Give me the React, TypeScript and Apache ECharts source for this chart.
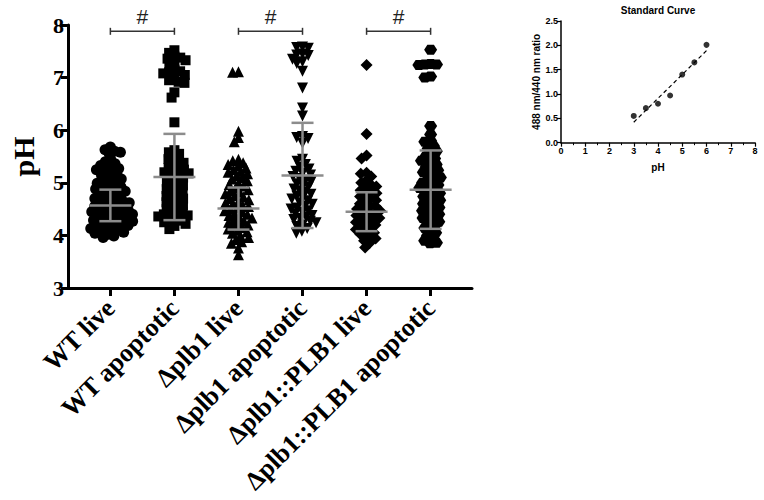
import React, { useEffect, useRef } from "react";
import * as echarts from "echarts";

// ---------- data ----------
const categories = [
  "WT live",
  "WT apoptotic",
  "Δplb1 live",
  "Δplb1 apoptotic",
  "Δplb1::PLB1 live",
  "Δplb1::PLB1 apoptotic",
];

const wtLive = [5.68, 5.63, 5.6, 5.58, 5.55, 5.44, 5.4, 5.36, 5.33, 5.3, 5.27, 5.25, 5.22, 5.18, 5.15, 5.14, 5.1, 5.07, 5.05, 5.02, 4.99, 4.97, 4.95, 4.92, 4.9, 4.88, 4.85, 4.84, 4.81, 4.79, 4.77, 4.74, 4.72, 4.7, 4.68, 4.67, 4.64, 4.62, 4.6, 4.59, 4.56, 4.55, 4.53, 4.51, 4.49, 4.48, 4.46, 4.45, 4.43, 4.41, 4.4, 4.38, 4.36, 4.35, 4.33, 4.31, 4.3, 4.29, 4.27, 4.25, 4.24, 4.22, 4.2, 4.19, 4.17, 4.15, 4.13, 4.12, 4.1, 4.08, 4.06, 4.04, 4.02, 3.99, 3.96];

const wtApoptotic = [7.52, 7.47, 7.4, 7.38, 7.36, 7.33, 7.28, 7.22, 7.15, 7.12, 7.1, 7.08, 7.05, 7.0, 6.95, 6.92, 6.9, 6.72, 6.62, 6.15, 5.62, 5.58, 5.55, 5.5, 5.45, 5.42, 5.38, 5.35, 5.3, 5.28, 5.25, 5.22, 5.2, 5.18, 5.15, 5.12, 5.1, 5.05, 5.02, 4.98, 4.95, 4.92, 4.88, 4.85, 4.82, 4.78, 4.75, 4.72, 4.7, 4.66, 4.63, 4.6, 4.57, 4.54, 4.5, 4.47, 4.44, 4.42, 4.4, 4.38, 4.36, 4.33, 4.3, 4.28, 4.25, 4.22, 4.18, 4.12];

const plb1Live = [7.11, 7.1, 5.98, 5.86, 5.78, 5.45, 5.42, 5.38, 5.35, 5.32, 5.28, 5.25, 5.22, 5.2, 5.17, 5.14, 5.1, 5.07, 5.04, 5.0, 4.97, 4.94, 4.9, 4.87, 4.85, 4.82, 4.79, 4.76, 4.73, 4.7, 4.68, 4.65, 4.62, 4.6, 4.57, 4.55, 4.52, 4.5, 4.47, 4.45, 4.42, 4.4, 4.38, 4.35, 4.33, 4.3, 4.28, 4.25, 4.23, 4.2, 4.18, 4.15, 4.12, 4.1, 4.07, 4.04, 4.0, 3.96, 3.92, 3.88, 3.85, 3.76, 3.63];

const plb1Apoptotic = [7.58, 7.57, 7.56, 7.45, 7.43, 7.42, 7.35, 7.3, 7.27, 7.12, 6.8, 6.42, 6.27, 5.88, 5.86, 5.84, 5.75, 5.45, 5.41, 5.35, 5.3, 5.26, 5.22, 5.18, 5.15, 5.12, 5.08, 5.05, 5.02, 4.98, 4.95, 4.92, 4.88, 4.85, 4.82, 4.78, 4.75, 4.72, 4.69, 4.66, 4.62, 4.59, 4.56, 4.52, 4.5, 4.47, 4.44, 4.41, 4.38, 4.35, 4.32, 4.3, 4.27, 4.24, 4.2, 4.17, 4.13, 4.08, 4.04];

const compLive = [7.24, 5.93, 5.52, 5.46, 5.19, 5.17, 5.12, 5.05, 5.0, 4.97, 4.93, 4.9, 4.86, 4.83, 4.8, 4.77, 4.74, 4.7, 4.67, 4.64, 4.6, 4.57, 4.55, 4.52, 4.5, 4.47, 4.45, 4.42, 4.4, 4.38, 4.35, 4.33, 4.3, 4.28, 4.25, 4.22, 4.2, 4.17, 4.14, 4.11, 4.08, 4.05, 4.02, 3.98, 3.94, 3.9, 3.85, 3.77];

const compApoptotic = [7.53, 7.26, 7.25, 7.25, 7.24, 7.02, 7.0, 6.08, 5.92, 5.8, 5.78, 5.7, 5.65, 5.6, 5.55, 5.5, 5.46, 5.42, 5.38, 5.35, 5.3, 5.27, 5.24, 5.2, 5.17, 5.14, 5.1, 5.06, 5.03, 5.0, 4.96, 4.93, 4.9, 4.87, 4.84, 4.8, 4.77, 4.74, 4.7, 4.67, 4.64, 4.6, 4.56, 4.53, 4.5, 4.47, 4.44, 4.4, 4.37, 4.33, 4.3, 4.26, 4.22, 4.18, 4.14, 4.1, 4.05, 4.0, 3.95, 3.9, 3.86, 3.85];

const groupValues = [wtLive, wtApoptotic, plb1Live, plb1Apoptotic, compLive, compApoptotic];
const groupMeans = [4.57, 5.11, 4.51, 5.14, 4.45, 4.87];
const groupSDs = [0.3, 0.82, 0.4, 1.0, 0.37, 0.745];

// significance comparisons: [from group, to group]
const comparisons = [[0, 1], [2, 3], [4, 5]];
const compLabel = "#";

const yTicks = [3, 4, 5, 6, 7, 8];

// standard curve
const stdPH = [3, 3.5, 4, 4.5, 5, 5.5, 6];
const stdRatio = [0.55, 0.71, 0.8, 0.97, 1.4, 1.65, 2.01];

// ---------- layout ----------
const G_LEFT = 62, G_TOP = 25, G_W = 410, G_H = 263;
const X_MIN = -0.6615, X_MAX = 5.646;
const Y_MIN = 3, Y_MAX = 8;
const PX_X = G_W / (X_MAX - X_MIN);
const PX_Y = G_H / (Y_MAX - Y_MIN);

const symbols = [
  { symbol: "circle", size: 11, rotate: 0, d: 6 },
  { symbol: "rect", size: 10, rotate: 0, d: 6 },
  { symbol: "triangle", size: 11, rotate: 0, d: 6 },
  { symbol: "triangle", size: 11, rotate: 180, d: 6 },
  { symbol: "diamond", size: 12, rotate: 0, d: 6 },
  { symbol: "path://M3,0 L9,0 L12,5 L9,10 L3,10 L0,5 Z", size: [13, 10], rotate: 0, d: 6 },
];

// deterministic beeswarm: horizontal pixel offsets so markers don't pile up
function swarm(values: number[], d: number): number[] {
  const order = values.map((_, i) => i).sort((a, b) => values[b] - values[a]);
  const placed: [number, number][] = [];
  const offs = new Array(values.length).fill(0);
  for (const idx of order) {
    const y = values[idx] * PX_Y;
    const blocks: [number, number][] = [];
    for (const [px, py] of placed) {
      const dy = Math.abs(py - y);
      if (dy < d) {
        const w = Math.sqrt(d * d - dy * dy);
        blocks.push([px - w, px + w]);
      }
    }
    const cands = [0];
    for (const [a, b] of blocks) cands.push(a, b);
    cands.sort((a, b) => Math.abs(a) - Math.abs(b));
    let x = 0;
    for (const c of cands) {
      if (blocks.every(([a, b]) => c <= a + 1e-6 || c >= b - 1e-6)) {
        x = c;
        break;
      }
    }
    placed.push([x, y]);
    offs[idx] = x;
  }
  return offs;
}

function linFit(xs: number[], ys: number[]) {
  const n = xs.length;
  const mx = xs.reduce((s, v) => s + v, 0) / n;
  const my = ys.reduce((s, v) => s + v, 0) / n;
  let sxy = 0, sxx = 0;
  for (let i = 0; i < n; i++) {
    sxy += (xs[i] - mx) * (ys[i] - my);
    sxx += (xs[i] - mx) ** 2;
  }
  const b = sxy / sxx;
  return (x: number) => my + b * (x - mx);
}

const SERIF = "'Liberation Serif', 'Times New Roman', serif";
const SANS = "'Liberation Sans', Arial, sans-serif";

export default function App() {
  const ref = useRef<HTMLDivElement>(null);
  useEffect(() => {
    if (!ref.current) return;
    const chart = echarts.init(ref.current, undefined, { renderer: "svg" });

    const scatterSeries = groupValues.map((vals, i) => {
      const offs = swarm(vals, symbols[i].d);
      return {
        type: "scatter",
        xAxisIndex: 0,
        yAxisIndex: 0,
        symbol: symbols[i].symbol,
        symbolSize: symbols[i].size,
        symbolRotate: symbols[i].rotate,
        itemStyle: { color: "#000", opacity: 1 },
        silent: true,
        z: 2,
        data: vals.map((v, k) => [i + offs[k] / PX_X, v]),
      };
    });

    const fit = linFit(stdPH, stdRatio);
    const xLo = Math.min(...stdPH), xHi = Math.max(...stdPH);

    const option: any = {
      animation: false,
      grid: [
        { left: G_LEFT, top: G_TOP, width: G_W, height: G_H },
        { left: 561, top: 21, width: 194, height: 121.7 },
      ],
      xAxis: [
        {
          gridIndex: 0,
          type: "value",
          min: X_MIN,
          max: X_MAX,
          splitLine: { show: false },
          axisLine: { show: true, onZero: false, lineStyle: { color: "#000", width: 3 } },
          axisTick: { show: true, customValues: [0, 1, 2, 3, 4, 5], length: 8, lineStyle: { color: "#000", width: 3 } },
          axisLabel: {
            customValues: [0, 1, 2, 3, 4, 5],
            formatter: (v: number) => categories[Math.round(v)],
            rotate: 45,
            margin: 16,
            color: "#000",
            fontFamily: SERIF,
            fontWeight: "bold",
            fontSize: 26,
          },
        },
        {
          gridIndex: 1,
          type: "value",
          min: 0,
          max: 8,
          interval: 1,
          splitLine: { show: false },
          axisLine: { show: true, onZero: false, lineStyle: { color: "#000", width: 1.5 } },
          axisTick: { show: true, length: 4, lineStyle: { color: "#000", width: 1.2 } },
          minorTick: { show: true, splitNumber: 2, length: 2.5, lineStyle: { color: "#000", width: 1 } },
          axisLabel: { color: "#000", fontFamily: SANS, fontWeight: "bold", fontSize: 9, margin: 4 },
          name: "pH",
          nameLocation: "middle",
          nameGap: 20,
          nameTextStyle: { color: "#000", fontFamily: SANS, fontWeight: "bold", fontSize: 10 },
        },
      ],
      yAxis: [
        {
          gridIndex: 0,
          type: "value",
          min: Y_MIN,
          max: Y_MAX,
          interval: 1,
          splitLine: { show: false },
          axisLine: { show: true, onZero: false, lineStyle: { color: "#000", width: 3 } },
          axisTick: { show: true, length: 7, lineStyle: { color: "#000", width: 3 } },
          axisLabel: {
            color: "#000",
            fontFamily: SERIF,
            fontWeight: "bold",
            fontSize: 22,
            margin: 4,
            formatter: (v: number) => (yTicks.includes(v) ? String(v) : ""),
          },
          name: "pH",
          nameLocation: "middle",
          nameGap: 30,
          nameTextStyle: { color: "#000", fontFamily: SERIF, fontWeight: "bold", fontSize: 30 },
        },
        {
          gridIndex: 1,
          type: "value",
          min: 0,
          max: 2.5,
          interval: 0.5,
          splitLine: { show: false },
          axisLine: { show: true, onZero: false, lineStyle: { color: "#000", width: 1.5 } },
          axisTick: { show: true, length: 4, lineStyle: { color: "#000", width: 1.2 } },
          axisLabel: {
            color: "#000",
            fontFamily: SANS,
            fontWeight: "bold",
            fontSize: 9,
            margin: 3,
            formatter: (v: number) => v.toFixed(1),
          },
          name: "488 nm/440 nm ratio",
          nameLocation: "middle",
          nameGap: 20,
          nameTextStyle: { color: "#000", fontFamily: SANS, fontWeight: "bold", fontSize: 10 },
        },
      ],
      graphic: [
        {
          type: "text",
          x: 658,
          y: 10,
          style: {
            text: "Standard Curve",
            fill: "#000",
            font: `bold 10px ${SANS}`,
            textAlign: "center",
            textVerticalAlign: "middle",
          },
        },
      ],
      series: [
        ...scatterSeries,
        {
          type: "custom",
          xAxisIndex: 0,
          yAxisIndex: 0,
          silent: true,
          z: 5,
          data: groupMeans.map((m, i) => [i, m, groupSDs[i]]),
          renderItem: (params: any, api: any) => {
            const i = api.value(0), m = api.value(1), s = api.value(2);
            const c = api.coord([i, m]);
            const t = api.coord([i, m + s]);
            const b = api.coord([i, m - s]);
            const style = { stroke: "#8c8c8c", lineWidth: 2.5 };
            return {
              type: "group",
              children: [
                { type: "line", shape: { x1: c[0] - 21, y1: c[1], x2: c[0] + 21, y2: c[1] }, style },
                { type: "line", shape: { x1: c[0], y1: t[1], x2: c[0], y2: b[1] }, style },
                { type: "line", shape: { x1: c[0] - 11, y1: t[1], x2: c[0] + 11, y2: t[1] }, style },
                { type: "line", shape: { x1: c[0] - 11, y1: b[1], x2: c[0] + 11, y2: b[1] }, style },
              ],
            };
          },
        },
        {
          type: "custom",
          xAxisIndex: 0,
          yAxisIndex: 0,
          silent: true,
          clip: false,
          z: 5,
          data: comparisons.map(([a, b]) => [a, b, 7.88]),
          renderItem: (params: any, api: any) => {
            const p0 = api.coord([api.value(0), api.value(2)]);
            const p1 = api.coord([api.value(1), api.value(2)]);
            const style = { stroke: "#333", lineWidth: 1.5 };
            return {
              type: "group",
              children: [
                { type: "line", shape: { x1: p0[0], y1: p0[1], x2: p1[0], y2: p1[1] }, style },
                { type: "line", shape: { x1: p0[0], y1: p0[1] - 3.5, x2: p0[0], y2: p0[1] + 3.5 }, style },
                { type: "line", shape: { x1: p1[0], y1: p1[1] - 3.5, x2: p1[0], y2: p1[1] + 3.5 }, style },
                {
                  type: "text",
                  x: (p0[0] + p1[0]) / 2,
                  y: p0[1] - 15,
                  style: {
                    text: compLabel,
                    fill: "#222",
                    font: `21px ${SANS}`,
                    textAlign: "center",
                    textVerticalAlign: "middle",
                  },
                },
              ],
            };
          },
        },
        {
          type: "scatter",
          xAxisIndex: 1,
          yAxisIndex: 1,
          symbol: "circle",
          symbolSize: 6,
          itemStyle: { color: "#000" },
          silent: true,
          data: stdPH.map((x, i) => [x, stdRatio[i]]),
        },
        {
          type: "line",
          xAxisIndex: 1,
          yAxisIndex: 1,
          symbol: "none",
          silent: true,
          lineStyle: { color: "#000", width: 1.2, type: [4, 3] },
          data: [
            [xLo, fit(xLo)],
            [xHi, fit(xHi)],
          ],
        },
      ],
    };
    chart.setOption(option);
    return () => chart.dispose();
  }, []);
  return (
    <div
      ref={ref}
      style={{ position: "fixed", left: 0, top: 0, width: 764, height: 500, background: "#fff" }}
    />
  );
}
